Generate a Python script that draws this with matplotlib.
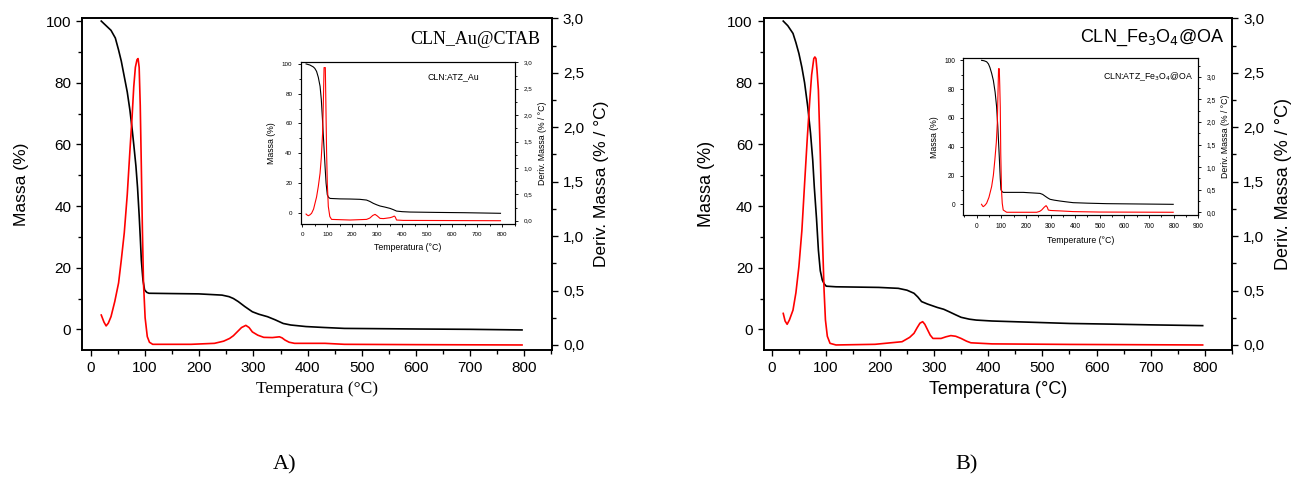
import numpy as np
import matplotlib
matplotlib.use('Agg')
import matplotlib.pyplot as plt
from matplotlib.ticker import MultipleLocator, FuncFormatter

plt.rcParams['font.family'] = ['Liberation Sans', 'DejaVu Sans']

# panel A, main: CLN_Au@CTAB
temp_a = [19, 25, 37, 45, 51, 56, 61.5, 67, 72, 76, 79, 83, 86, 89, 91, 93, 96, 99,
          103, 107, 150, 199, 242, 255, 263, 272, 284, 298, 310, 326, 340, 355, 369,
          397, 430, 468, 540, 609, 700, 796]
mass_a = [100, 99, 97, 94.5, 90.6, 87, 82, 77, 71, 65, 60, 53, 46, 37, 30, 22.5, 16, 12.8,
          12, 11.7, 11.6, 11.5, 11.1, 10.6, 10, 9, 7.4, 5.7, 4.9, 4.1, 3.1, 1.9, 1.4,
          0.9, 0.6, 0.3, 0.2, 0.1, 0, -0.2]
dtemp_a = [19, 24, 28, 32, 37, 44, 51, 56, 61.5, 67, 72, 76, 79, 82, 85, 87, 89, 91, 93,
           95, 97, 100, 104, 108, 114, 185, 228, 245, 256, 263, 270, 278, 286, 292, 298,
           308, 319, 335, 348, 353, 358, 366, 376, 432, 468, 600, 796]
deriv_a = [0.275, 0.21, 0.175, 0.2, 0.26, 0.4, 0.57, 0.78, 1.03, 1.38, 1.79, 2.1, 2.37,
           2.55, 2.62, 2.63, 2.55, 2.2, 1.64, 1.05, 0.57, 0.25, 0.077, 0.025, 0.006, 0.006,
           0.015, 0.035, 0.06, 0.085, 0.12, 0.16, 0.18, 0.16, 0.12, 0.09, 0.07, 0.068,
           0.075, 0.065, 0.046, 0.025, 0.015, 0.015, 0.006, 0.003, 0.0]

# panel A, inset: CLN:ATZ_Au
temp_ia = [15, 30, 44, 50, 57, 64, 71, 76, 80, 84, 88, 91, 95, 100, 105, 111, 150, 191,
           230, 257, 270, 284, 298, 311, 330, 351, 365, 377, 400, 431, 537, 650, 793]
mass_ia = [100, 99.3, 98, 97, 95, 91, 85, 76, 64.6, 52, 40, 31, 20, 12, 10.3, 9.6, 9.3,
           9.2, 9, 8.5, 7.6, 6.3, 5.3, 4.5, 3.8, 2.9, 2.0, 1.1, 0.7, 0.45, 0.2, 0, -0.4]
dtemp_ia = [15, 20, 24, 30, 37, 45, 57, 64, 71, 76, 81, 84, 87, 92, 94, 97, 100, 104, 110,
            117, 191, 257, 270, 282, 291, 300, 311, 325, 340, 351, 360, 368, 372, 377,
            404, 793]
deriv_ia = [0.126, 0.105, 0.095, 0.11, 0.14, 0.22, 0.45, 0.65, 0.9, 1.2, 1.65, 2.2, 2.9,
            2.9, 2.3, 1.33, 0.7, 0.27, 0.08, 0.025, 0.013, 0.025, 0.05, 0.1, 0.12, 0.09,
            0.044, 0.04, 0.05, 0.057, 0.07, 0.088, 0.07, 0.013, 0.006, 0.0]

# panel B, main: CLN_Fe3O4@OA
temp_b = [21.6, 30, 39.6, 45, 50.5, 56, 61, 67, 72, 76, 79, 83, 86.5, 90, 93.7, 97, 101,
          119, 198, 234, 250, 263, 270, 277, 288, 306, 318, 328, 340, 350, 365, 378, 407,
          479, 551, 623, 700, 796]
mass_b = [100, 98.5, 96, 93, 89.5, 85, 80, 72, 63.6, 55, 46, 36, 25.7, 19, 16, 14.8, 14,
          13.8, 13.6, 13.3, 12.7, 11.7, 10.5, 9, 8.2, 7.1, 6.5, 5.7, 4.7, 3.9, 3.3, 3.0,
          2.7, 2.3, 1.9, 1.7, 1.45, 1.2]
dtemp_b = [21.6, 25, 28.8, 33, 39.6, 45, 50.5, 56, 61, 66, 70.6, 74, 78, 80, 82, 84, 86.5,
           90, 93.7, 97, 99.5, 103, 108, 119, 191, 241, 255, 263, 269, 274, 279, 283, 288,
           293, 298, 313, 322, 331, 340, 350, 360, 368, 407, 551, 796]
deriv_b = [0.29, 0.22, 0.19, 0.23, 0.32, 0.48, 0.72, 1.05, 1.48, 1.9, 2.25, 2.48, 2.63,
           2.645, 2.63, 2.52, 2.34, 1.75, 1.03, 0.5, 0.23, 0.08, 0.015, 0.0, 0.006, 0.03,
           0.07, 0.107, 0.16, 0.2, 0.214, 0.19, 0.14, 0.09, 0.06, 0.06, 0.075, 0.086,
           0.08, 0.06, 0.035, 0.02, 0.01, 0.005, 0.0]

# panel B, inset: CLN:ATZ_Fe3O4@OA
temp_ib = [20, 30, 40.6, 48, 54, 61, 68, 75, 81, 86, 92, 96, 99, 104, 108, 189, 257, 268,
           277, 288, 298, 315, 338, 365, 392, 450, 528, 663, 798]
mass_ib = [100, 99.7, 99, 97.5, 95, 91, 86, 78, 68, 54, 33, 18, 10, 8.7, 8.3, 8.3, 7.6,
           6.9, 5.8, 4.5, 3.5, 2.9, 2.3, 1.7, 1.15, 0.8, 0.46, 0.23, 0]
dtemp_ib = [20, 24, 27, 33, 40.6, 50, 61, 68, 74, 80, 84, 87, 89, 92, 94, 96, 98, 101, 104,
            108, 122, 244, 256, 264, 274, 282, 287, 291, 300, 311, 340, 392, 500, 798]
deriv_ib = [0.177, 0.14, 0.125, 0.15, 0.2, 0.33, 0.57, 0.82, 1.16, 1.55, 1.97, 2.7, 3.18,
            3.18, 2.8, 2.33, 1.3, 0.49, 0.2, 0.05, 0.0, 0.0, 0.02, 0.05, 0.11, 0.147, 0.11,
            0.05, 0.04, 0.037, 0.03, 0.015, 0.005, 0.0]


def comma(v, pos):
    return f'{v:.1f}'.replace('.', ',')


def draw(ax, tm, mass, td, deriv, xlim, ylim, y2lim, xlabel, xfont, ylabel2,
         lw, tick_fs, lab_fs, tlen, xmaj=100, pad_l=4, pad_r=4):
    ax.plot(tm, mass, color='black', lw=lw)
    ax2 = ax.twinx()
    ax2.plot(td, deriv, color='#ff0000', lw=lw)
    ax.set_xlim(*xlim)
    ax.set_ylim(*ylim)
    ax2.set_ylim(*y2lim)
    ax.xaxis.set_major_locator(MultipleLocator(xmaj))
    ax.xaxis.set_minor_locator(MultipleLocator(xmaj / 2))
    ax.yaxis.set_major_locator(MultipleLocator(20))
    ax.yaxis.set_minor_locator(MultipleLocator(10))
    ax2.yaxis.set_major_locator(MultipleLocator(0.5))
    ax2.yaxis.set_minor_locator(MultipleLocator(0.25))
    ax2.yaxis.set_major_formatter(FuncFormatter(comma))
    for a in (ax, ax2):
        a.tick_params(which='major', direction='out', length=tlen, width=lw * 0.8,
                      labelsize=tick_fs)
        a.tick_params(which='minor', direction='out', length=tlen * 0.6, width=lw * 0.8)
        for s in a.spines.values():
            s.set_linewidth(lw)
    ax.set_xlabel(xlabel, fontsize=lab_fs, family=xfont)
    ax.set_ylabel('Massa (%)', fontsize=lab_fs, labelpad=pad_l)
    ax2.set_ylabel(ylabel2, fontsize=lab_fs, labelpad=pad_r)
    return ax2


fig = plt.figure(figsize=(12.92, 4.83), dpi=100)

ax_a = fig.add_axes([0.0637, 0.2754, 0.3634, 0.6867])
draw(ax_a, temp_a, mass_a, dtemp_a, deriv_a, (-16, 851), (-6.7, 100.9), (-0.046, 3.0),
     'Temperatura (°C)', ['Liberation Serif', 'DejaVu Serif'], 'Deriv. Massa (% / °C)',
     1.2, 11, 12.5, 4.5, pad_l=12, pad_r=7)
ax_a.text(0.975, 0.935, 'CLN_Au@CTAB', transform=ax_a.transAxes, ha='right', va='center',
          fontsize=13, family=['Liberation Serif', 'DejaVu Serif'])

ax_b = fig.add_axes([0.5913, 0.2754, 0.3622, 0.6867])
draw(ax_b, temp_b, mass_b, dtemp_b, deriv_b, (-14, 850), (-6.7, 100.9), (-0.046, 3.0),
     'Temperatura (°C)', ['Liberation Sans', 'DejaVu Sans'], 'Deriv. Massa (% / °C)',
     1.2, 11, 13, 4.5, pad_l=9, pad_r=8)
ax_b.text(0.985, 0.94, r'CLN_Fe$_3$O$_4$@OA', transform=ax_b.transAxes, ha='right',
          va='center', fontsize=13)

ins_a = fig.add_axes([0.2327, 0.5362, 0.1659, 0.3348])
draw(ins_a, temp_ia, mass_ia, dtemp_ia, deriv_ia, (-6.7, 851), (-7.6, 101.1), (-0.0625, 3.0),
     'Temperatura (°C)', ['Liberation Sans', 'DejaVu Sans'], 'Deriv. Massa (% / °C)',
     0.8, 4.5, 6.3, 2.5)
ins_a.text(0.713, 0.911, 'CLN:ATZ_Au', transform=ins_a.transAxes, ha='center',
           va='center', fontsize=6.3)

ins_b = fig.add_axes([0.7456, 0.5549, 0.1819, 0.3244])
draw(ins_b, temp_ib, mass_ib, dtemp_ib, deriv_ib, (-54, 900), (-7.4, 101.4), (-0.06, 3.41),
     'Temperature (°C)', ['Liberation Sans', 'DejaVu Sans'], 'Deriv. Massa (% / °C)',
     0.8, 4.8, 6.3, 2.5)
ins_b.text(0.977, 0.883, r'CLN:ATZ_Fe$_3$O$_4$@OA', transform=ins_b.transAxes, ha='right',
           va='center', fontsize=6.3)

fig.text(285 / 1292, 1 - 465 / 483, 'A)', ha='center', va='center', fontsize=16,
         family=['Liberation Serif', 'DejaVu Serif'])
fig.text(967 / 1292, 1 - 465 / 483, 'B)', ha='center', va='center', fontsize=16,
         family=['Liberation Serif', 'DejaVu Serif'])

fig.savefig('out.png', dpi=100)
